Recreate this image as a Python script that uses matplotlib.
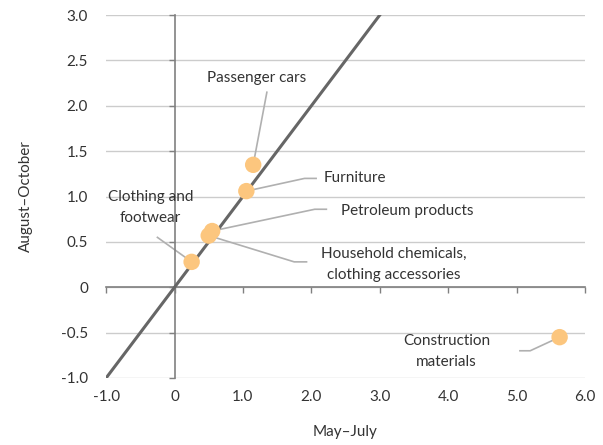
import matplotlib.pyplot as plt

plt.rcParams['font.family'] = ['Lato', 'DejaVu Sans']

# data: May-July change (x) vs August-October change (y)
labels = ['Passenger cars', 'Furniture', 'Petroleum products',
          'Household chemicals,\nclothing accessories', 'Clothing and\nfootwear',
          'Construction\nmaterials']
may_jul = [1.15, 1.05, 0.55, 0.50, 0.25, 5.63]
aug_oct = [1.35, 1.06, 0.62, 0.57, 0.28, -0.55]

# label anchors (text pos) and elbow points for leader lines
text_xy = [(1.2, 2.31), (2.18, 1.20), (2.43, 0.84), (3.2, 0.25), (-0.35, 0.88), (3.98, -0.71)]
elbow_xy = [(1.35, 2.15), (1.9, 1.20), (2.05, 0.86), (1.75, 0.28), (-0.25, 0.55), (5.2, -0.70)]
text_ha = ['center', 'left', 'left', 'center', 'center', 'center']
end_xy = [None, (2.07, 1.20), (2.22, 0.86), (1.93, 0.28), None, (5.05, -0.70)]

txt = '#333333'
fig = plt.figure(figsize=(6.03, 4.45), dpi=100)
pos = [0.176, 0.1506, 0.794, 0.8154]
ax = fig.add_axes(pos)
ax.set_xlim(-1, 6)
ax.set_ylim(-1, 3)
ax.set_xticks([-1, 0, 1, 2, 3, 4, 5, 6])
ax.set_xticklabels(['-1.0', '0', '1.0', '2.0', '3.0', '4.0', '5.0', '6.0'])
ax.set_yticks([-1, -0.5, 0, 0.5, 1, 1.5, 2, 2.5, 3])
ax.set_yticklabels(['-1.0', '-0.5', '0', '0.5', '1.0', '1.5', '2.0', '2.5', '3.0'])
ax.tick_params(length=0, labelsize=11, labelcolor=txt)
ax.tick_params(axis='y', pad=13)
ax.tick_params(axis='x', pad=9)
for s in ax.spines.values():
    s.set_visible(False)
ax.grid(axis='y', color='#cccccc', linewidth=1)
ax.set_axisbelow(True)
ax.set_xlabel('May–July', fontsize=11, color=txt, labelpad=15)
ax.set_ylabel('August–October', fontsize=11, color=txt, labelpad=20)

# overlay axes for the spines crossing at zero
ax2 = fig.add_axes(pos, sharex=ax, sharey=ax)
ax2.patch.set_alpha(0)
ax2.spines['top'].set_visible(False)
ax2.spines['right'].set_visible(False)
ax2.spines['left'].set_position(('data', 0))
ax2.spines['bottom'].set_position(('data', 0))
for s in ['left', 'bottom']:
    ax2.spines[s].set_color('#808080')
    ax2.spines[s].set_linewidth(1.2)
ax2.tick_params(labelleft=False, labelbottom=False, length=4, color='#808080', width=1, direction='out')

# 45 degree line
ax2.plot([-1, 3], [-1, 3], color='#666666', linewidth=2.2, zorder=3)

for i in range(len(labels)):
    px, py = may_jul[i], aug_oct[i]
    ex, ey = elbow_xy[i]
    xs = [px, ex]
    ys = [py, ey]
    if end_xy[i] is not None:
        xs.append(end_xy[i][0])
        ys.append(end_xy[i][1])
    ax2.plot(xs, ys, color='#b0b0b0', linewidth=1.2, zorder=2)
    tx, ty = text_xy[i]
    ax2.text(tx, ty, labels[i], ha=text_ha[i], va='center', fontsize=11,
             color=txt, linespacing=1.6, zorder=5)

ax2.scatter(may_jul, aug_oct, s=140, color='#fcc67e', edgecolors='none', zorder=4)

fig.savefig('out.png', dpi=100)
